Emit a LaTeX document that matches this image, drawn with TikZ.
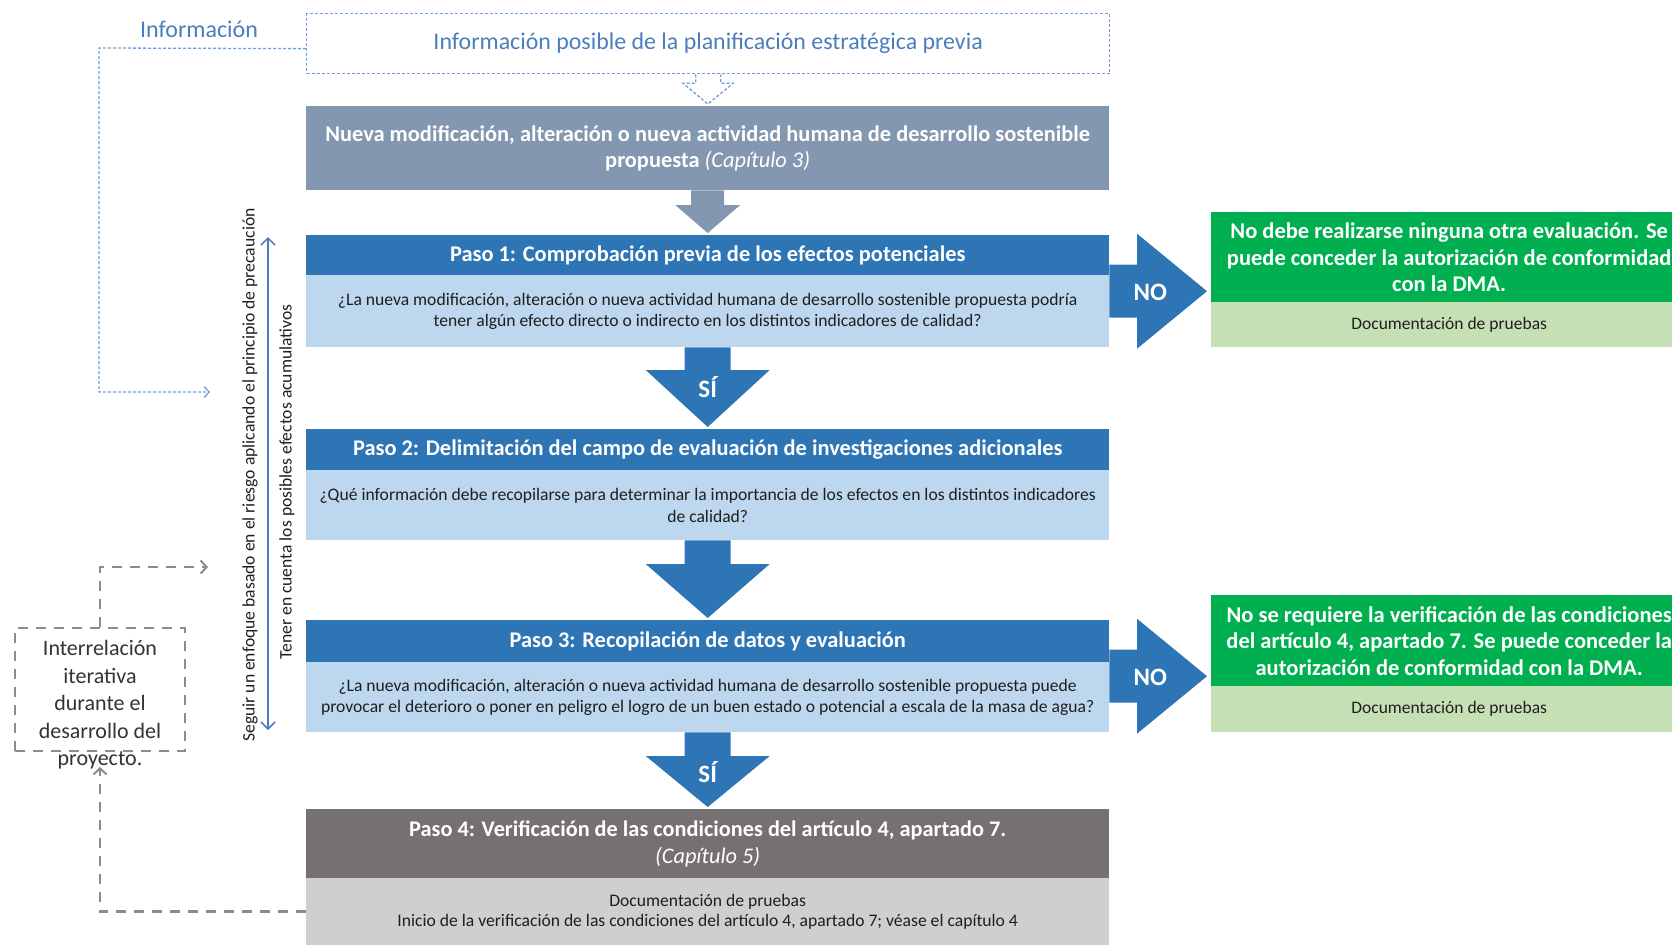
\documentclass[tikz,border=0pt]{standalone}
\usepackage{fontspec}
\setmainfont{Carlito}
\usetikzlibrary{calc,arrows.meta}
\definecolor{cgray}{HTML}{8497B0}
\definecolor{cblue}{HTML}{2E75B6}
\definecolor{clight}{HTML}{BDD7EE}
\definecolor{cdgray}{HTML}{767171}
\definecolor{clgray}{HTML}{D0CECE}
\definecolor{cgreen}{HTML}{00B050}
\definecolor{clgreen}{HTML}{C5E0B4}
\definecolor{cinfotext}{HTML}{4A7EBB}
\definecolor{cinfoline}{HTML}{6F9FD8}
\definecolor{cdash}{HTML}{8C8C8C}
\definecolor{ctext}{HTML}{1F1F1F}
\newcommand\fhdr{\fontsize{22.4}{26.5}\selectfont\bfseries}
\newcommand\fbody{\fontsize{17.6}{21.5}\selectfont}
\newcommand\downblk[6]{\fill[#1] ($(#2)+(-#4,0)$) -- ($(#3)+(-#4,-#6)$) -- ($(#3)+(-#5,-#6)$) -- ($(#3)+(0,-2)$) -- ($(#3)+(#5,-#6)$) -- ($(#3)+(#4,-#6)$) -- ($(#2)+(#4,0)$) -- cycle;}
\begin{document}
\begin{tikzpicture}[x=1pt,y=-1pt,
  box/.style={draw=none, inner sep=0pt, anchor=north west, minimum width=803, align=center},
  hdr/.style={box, text=white, font=\fhdr},
  bdy/.style={box, fill=clight, text=ctext, font=\fbody},
  gbox/.style={draw=none, inner sep=0pt, anchor=north west, minimum width=476, align=center},
  infodash/.style={draw=cinfoline, line width=1.3pt, dash pattern=on 3pt off 2pt},
  graydash/.style={draw=cdash, line width=2.5pt, dash pattern=on 10pt off 8pt},
  lbl/.style={text=white, font=\fontsize{25}{26}\selectfont\bfseries}
]
\useasboundingbox (0,0) rectangle (1672,945);

% info box
\node[infodash, inner sep=0pt, anchor=north west, minimum width=803, minimum height=60,
      text=cinfotext, font=\fontsize{23.9}{26}\selectfont] (info) at (306,13)
      {Información posible de la planificación estratégica previa};
\node[text=cinfotext, font=\fontsize{24}{26}\selectfont] (infolbl) at (199,29) {Información};

% main column
\node[hdr, fill=cgray, minimum height=84] (nueva) at (306,106)
  {Nueva modificación, alteración o nueva actividad humana de desarrollo sostenible\\[0pt]propuesta {\mdseries\itshape (Capítulo 3)}};
\node[hdr, fill=cblue, minimum height=40] (p1h) at (306,235)
  {Paso 1: Comprobación previa de los efectos potenciales};
\node[bdy, minimum height=72] (p1b) at (306,275)
  {¿La nueva modificación, alteración o nueva actividad humana de desarrollo sostenible propuesta podría\\tener algún efecto directo o indirecto en los distintos indicadores de calidad?};
\node[hdr, fill=cblue, minimum height=41] (p2h) at (306,429)
  {Paso 2: Delimitación del campo de evaluación de investigaciones adicionales};
\node[bdy, minimum height=70] (p2b) at (306,470)
  {¿Qué información debe recopilarse para determinar la importancia de los efectos en los distintos indicadores\\de calidad?};
\node[hdr, fill=cblue, minimum height=42] (p3h) at (306,620)
  {Paso 3: Recopilación de datos y evaluación};
\node[bdy, minimum height=70] (p3b) at (306,662)
  {¿La nueva modificación, alteración o nueva actividad humana de desarrollo sostenible propuesta puede\\provocar el deterioro o poner en peligro el logro de un buen estado o potencial a escala de la masa de agua?};
\node[hdr, fill=cdgray, minimum height=69, font=\fontsize{22.3}{27}\selectfont\bfseries] (p4h) at (306,809)
  {Paso 4: Verificación de las condiciones del artículo 4, apartado 7.\\{\mdseries\itshape (Capítulo 5)}};
\node[box, fill=clgray, minimum height=67, text=ctext, font=\fontsize{17.6}{20.5}\selectfont] (p4b) at (306,878)
  {Documentación de pruebas\\Inicio de la verificación de las condiciones del artículo 4, apartado 7; véase el capítulo 4};

% green boxes
\node[gbox, fill=cgreen, minimum height=90, text=white, font=\fontsize{22.5}{26.5}\selectfont\bfseries] (g1) at (1211,212)
  {No debe realizarse ninguna otra evaluación. Se\\puede conceder la autorización de conformidad\\con la DMA.};
\node[gbox, fill=clgreen, minimum height=45, text=ctext, font=\fontsize{17.5}{19}\selectfont] (g1b) at (1211,302)
  {Documentación de pruebas};
\node[gbox, fill=cgreen, minimum height=91, text=white, font=\fontsize{22.5}{26.5}\selectfont\bfseries] (g2) at (1211,595)
  {No se requiere la verificación de las condiciones\\del artículo 4, apartado 7. Se puede conceder la\\autorización de conformidad con la DMA.};
\node[gbox, fill=clgreen, minimum height=46, text=ctext, font=\fontsize{17.5}{19}\selectfont] (g2b) at (1211,686)
  {Documentación de pruebas};

% hollow info arrow
\draw[infodash] ($(info.south)+(-12.5,0)$) -- ($(info.south)+(-12.5,9)$) -- ($(info.south)+(-25,9)$)
  -- ($(nueva.north)+(0,-2)$) -- ($(info.south)+(25,9)$) -- ($(info.south)+(12.5,9)$) -- ($(info.south)+(12.5,0)$);

% down block arrows
\downblk{cgray}{nueva.south}{p1h.north}{16.5}{32.5}{30}
\downblk{cblue}{p1b.south}{p2h.north}{23}{62}{59}
\downblk{cblue}{p2b.south}{p3h.north}{23}{62}{56}
\downblk{cblue}{p3b.south}{p4h.north}{23}{62}{53}
\node[lbl] (si1) at ($(p1b.south)+(0,40)$) {SÍ};
\node[lbl] (si2) at ($(p3b.south)+(0,40)$) {SÍ};

% NO arrows
\coordinate (n1) at ($(p1h.north east)!0.5!(p1b.south east)$);
\coordinate (t1) at ($(n1 -| g1.west)+(-4,0)$);
\fill[cblue] ($(n1)+(0,-26.5)$) -- ($(t1)+(-70,-26.5)$) -- ($(t1)+(-70,-57.5)$) -- (t1)
  -- ($(t1)+(-70,57.5)$) -- ($(t1)+(-70,26.5)$) -- ($(n1)+(0,26.5)$) -- cycle;
\node[lbl] (no1) at ($(n1)+(41,1)$) {NO};
\coordinate (n2) at ($(p3h.north east)!0.5!(p3b.south east)$);
\coordinate (t2) at ($(n2 -| g2.west)+(-4,0)$);
\fill[cblue] ($(n2)+(0,-26.5)$) -- ($(t2)+(-70,-26.5)$) -- ($(t2)+(-70,-57.5)$) -- (t2)
  -- ($(t2)+(-70,57.5)$) -- ($(t2)+(-70,26.5)$) -- ($(n2)+(0,26.5)$) -- cycle;
\node[lbl] (no2) at ($(n2)+(41,1)$) {NO};

% information feedback line
\coordinate (infoend) at (210,392);
\draw[infodash, -{Straight Barb[length=5pt,width=11pt,line width=1.3pt]}]
  ($(info.west)+(0,5)$) -- (99,48) -- (99,392) -- (infoend);

% vertical double arrow and rotated texts
\coordinate (vtop) at (268,237);
\coordinate (vbot) at (268,730);
\draw[cinfotext, line width=1.5pt, {Straight Barb[length=7pt,width=14pt]}-{Straight Barb[length=7pt,width=14pt]}] (vtop) -- (vbot);
\node[rotate=90, text=ctext, font=\fontsize{17.6}{18}\selectfont] (seguir) at (250,475)
  {Seguir un enfoque basado en el riesgo aplicando el principio de precaución};
\node[rotate=90, text=ctext, font=\fontsize{17.6}{18}\selectfont] (tener) at (287,482)
  {Tener en cuenta los posibles efectos acumulativos};

% iterative box
\node[draw=cdash, line width=2pt, dash pattern=on 10pt off 8pt, inner sep=0pt, minimum width=170, minimum height=123] (iter) at (100,689.5) {};
\node[align=center, text=black!80, font=\fontsize{22}{27.5}\selectfont] (itertxt) at (100,705)
  {Interrelación\\iterativa\\durante el\\desarrollo del\\proyecto.};
\coordinate (itop) at (208,567);
\draw[graydash, -{Straight Barb[length=6pt,width=13pt,line width=2pt]}] (iter.north) |- (itop);
\coordinate (ibot) at (100,767);
\draw[graydash, -{Straight Barb[length=6pt,width=13pt,line width=2pt]}] (p4b.west) -| (ibot);
\end{tikzpicture}
\end{document}
